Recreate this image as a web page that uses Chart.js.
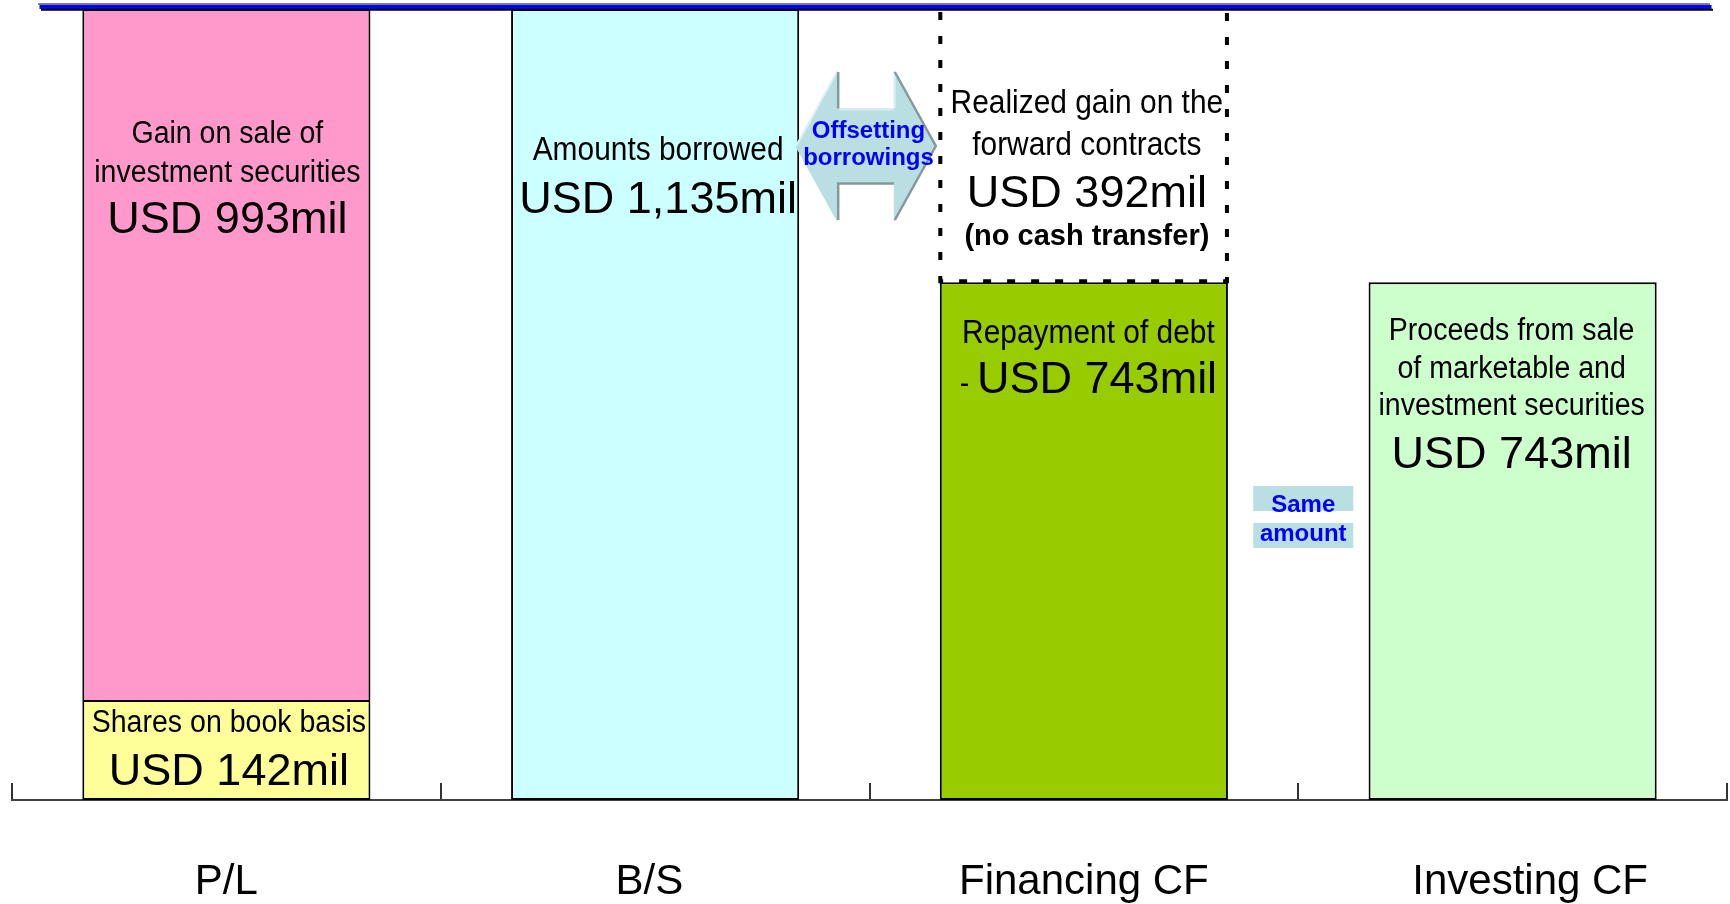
<!DOCTYPE html>
<html>
<head>
<meta charset="utf-8">
<title>Offsetting borrowings</title>
<script src="https://cdn.jsdelivr.net/npm/chart.js@4"></script>
<style>
  html, body { margin: 0; padding: 0; background: #fff; }
  #wrap { width: 1730px; height: 904px; }
</style>
</head>
<body>
<div id="wrap"><canvas id="chart" width="1730" height="904"></canvas></div>
<script>
// Columns on the bottom axis
const categories = ['P/L', 'B/S', 'Financing CF', 'Investing CF'];

// Lower segment of each column, USD mil
// (shares on book basis, amounts borrowed, repayment of debt, proceeds from sale)
const lowerValues = [142, 1135, 743, 743];
// Upper segment, USD mil (gain on sale, -, realized gain on forward contracts, -)
const upperValues = [993, null, 392, null];

const yMax = 1135;

const lowerColors = ['#ffff99', '#ccffff', '#99cc00', '#ccffcc'];
const upperColors = ['#ff99cc', 'rgba(0,0,0,0)', 'rgba(0,0,0,0)', 'rgba(0,0,0,0)'];

const FONT = "'Liberation Sans', Arial, sans-serif";
const NARROW = 0.92;
const TAG_FILL = '#badfe3';
const TAG_TEXT = '#0000ff';

const usd = v => 'USD ' + v.toLocaleString('en-US') + 'mil';

// Captions inside each segment; dy is the baseline offset from the segment top
const captions = [
  { ds: 1, i: 0, dx: 1, lines: [
    { t: 'Gain on sale of', size: 31, narrow: true, dy: 134 },
    { t: 'investment securities', size: 31, narrow: true, dy: 173 },
    { t: usd(upperValues[0]), size: 45, dy: 224 }
  ] },
  { ds: 0, i: 0, dx: 2.5, lines: [
    { t: 'Shares on book basis', size: 31, narrow: true, dy: 31 },
    { t: usd(lowerValues[0]), size: 45, dy: 84 }
  ] },
  { ds: 0, i: 1, dx: 3, lines: [
    { t: 'Amounts borrowed', size: 32.5, narrow: true, dy: 151 },
    { t: usd(lowerValues[1]), size: 45, dy: 204 }
  ] },
  { ds: 1, i: 2, dx: 3, lines: [
    { t: 'Realized gain on the', size: 32.5, narrow: true, dy: 104 },
    { t: 'forward contracts', size: 32.5, narrow: true, dy: 146 },
    { t: usd(upperValues[2]), size: 45, dy: 198 },
    { t: '(no cash transfer)', size: 29, bold: true, dy: 236 }
  ] },
  { ds: 0, i: 2, dx: 4.5, lines: [
    { t: 'Repayment of debt', size: 32.5, narrow: true, dy: 61 },
    { t: usd(lowerValues[2]), prefix: '- ', size: 45, dy: 111 }
  ] },
  { ds: 0, i: 3, dx: -1, lines: [
    { t: 'Proceeds from sale', size: 31, narrow: true, dy: 58 },
    { t: 'of marketable and', size: 31, narrow: true, dy: 96 },
    { t: 'investment securities', size: 31, narrow: true, dy: 133 },
    { t: usd(lowerValues[3]), size: 45, dy: 186 }
  ] }
];

// Axis labels sit a little off-centre under their columns
const labelPad = ['', ' ', '', '   '];

function fontSpec(p) {
  return (p.bold ? 'bold ' : '') + p.size + 'px ' + FONT;
}

// Draws one caption line centred on cx, optional small prefix in front
function drawLine(ctx, line, cx, baseY) {
  const pieces = line.prefix ? [{ t: line.prefix, size: 31, narrow: true }, line] : [line];
  const widths = pieces.map(p => {
    ctx.font = fontSpec(p);
    return ctx.measureText(p.t).width * (p.narrow ? NARROW : 1);
  });
  let x = cx - widths.reduce((a, b) => a + b, 0) / 2;
  pieces.forEach((p, k) => {
    ctx.save();
    ctx.font = fontSpec(p);
    ctx.fillStyle = p.color || '#000';
    ctx.textAlign = 'left';
    ctx.textBaseline = 'alphabetic';
    ctx.translate(x, baseY);
    if (p.narrow) ctx.scale(NARROW, 1);
    ctx.fillText(p.t, 0, 0);
    ctx.restore();
    x += widths[k];
  });
}

function edges(el) {
  return { left: el.x - el.width / 2, right: el.x + el.width / 2, top: el.y, bottom: el.base };
}

// Double-headed block arrow between two columns
function drawArrow(ctx, L, R, cy) {
  const headH = 76, shaftH = 37.5, headW = 42;
  const xl = L + headW, xr = R - headW;
  ctx.save();
  ctx.beginPath();
  ctx.moveTo(L, cy);
  ctx.lineTo(xl, cy - headH);
  ctx.lineTo(xl, cy - shaftH);
  ctx.lineTo(xr, cy - shaftH);
  ctx.lineTo(xr, cy - headH);
  ctx.lineTo(R, cy);
  ctx.lineTo(xr, cy + headH);
  ctx.lineTo(xr, cy + shaftH);
  ctx.lineTo(xl, cy + shaftH);
  ctx.lineTo(xl, cy + headH);
  ctx.closePath();
  ctx.fillStyle = TAG_FILL;
  ctx.fill();

  const seg = (pts, color, w) => {
    ctx.beginPath();
    ctx.moveTo(pts[0][0], pts[0][1]);
    pts.slice(1).forEach(p => ctx.lineTo(p[0], p[1]));
    ctx.strokeStyle = color;
    ctx.lineWidth = w;
    ctx.stroke();
  };
  // light bevel
  seg([[L + 1, cy], [xl, cy - headH + 1]], '#e2f2f4', 2);
  seg([[xl + 2, cy - shaftH + 1], [xr, cy - shaftH + 1]], '#d6ecee', 2);
  seg([[xr + 1, cy - shaftH], [xr + 1, cy - headH + 2]], '#d6ecee', 2);
  // dark bevel
  seg([[xl + 1, cy - headH + 2], [xl + 1, cy - shaftH]], '#84999b', 2.5);
  seg([[xl + 1, cy + headH - 2], [xl + 1, cy + shaftH], [xr, cy + shaftH]], '#84999b', 2.5);
  seg([[xr + 1, cy - headH + 2], [R, cy], [xr + 1, cy + headH - 2]], '#84999b', 2.5);
  ctx.restore();

  ctx.save();
  ctx.fillStyle = TAG_TEXT;
  ctx.font = 'bold 24px ' + FONT;
  ctx.textAlign = 'center';
  ctx.textBaseline = 'alphabetic';
  const cx = (L + R) / 2 + 3;
  ctx.fillText('Offsetting', cx, cy - 8);
  ctx.fillText('borrowings', cx, cy + 19);
  ctx.restore();
}

// "Same amount" tag between two columns
function drawSameTag(ctx, cx, top) {
  ctx.save();
  ctx.fillStyle = TAG_FILL;
  ctx.fillRect(cx - 50, top, 100, 25);
  ctx.fillRect(cx - 50, top + 37, 100, 25);
  ctx.fillStyle = TAG_TEXT;
  ctx.font = 'bold 24px ' + FONT;
  ctx.textAlign = 'center';
  ctx.textBaseline = 'alphabetic';
  ctx.fillText('Same', cx, top + 26);
  ctx.fillText('amount', cx, top + 55);
  ctx.restore();
}

const overlay = {
  id: 'overlay',
  afterDatasetsDraw(chart) {
    const { ctx, chartArea } = chart;
    const lower = chart.getDatasetMeta(0).data;
    const upper = chart.getDatasetMeta(1).data;

    // dotted frame for the non-cash part of financing CF
    const nc = edges(upper[2]);
    ctx.save();
    ctx.strokeStyle = '#000';
    ctx.lineWidth = 4;
    ctx.setLineDash([8, 16]);
    ctx.beginPath();
    ctx.moveTo(nc.left + 0.5, nc.top + 3);
    ctx.lineTo(nc.left + 0.5, nc.bottom - 1);
    ctx.lineTo(nc.right - 1, nc.bottom - 1);
    ctx.lineTo(nc.right - 1, nc.top);
    ctx.stroke();
    ctx.restore();

    captions.forEach(c => {
      const el = (c.ds === 0 ? lower : upper)[c.i];
      c.lines.forEach(line => drawLine(ctx, line, el.x + c.dx, el.y + line.dy));
    });

    const bs = edges(lower[1]);
    drawArrow(ctx, bs.right - 4, nc.left - 4, chartArea.top + 137);

    const fin = edges(lower[2]);
    const inv = edges(lower[3]);
    drawSameTag(ctx, (fin.right + inv.left) / 2 + 5, chartArea.top + 477);
  },
  afterDraw(chart) {
    // heading rule across the top of the plot
    const { ctx, chartArea } = chart;
    const x0 = chartArea.left + 26, x1 = chartArea.right - 17, t = chartArea.top;
    const rule = (dx, y, color, w) => {
      ctx.beginPath();
      ctx.moveTo(x0 + dx, y);
      ctx.lineTo(x1 + dx, y);
      ctx.strokeStyle = color;
      ctx.lineWidth = w;
      ctx.stroke();
    };
    ctx.save();
    rule(0, t - 5, '#7f7f7f', 2);
    rule(1.5, t - 2, '#0000ff', 4);
    rule(3, t + 0.8, '#000', 2);
    ctx.restore();
  }
};

new Chart(document.getElementById('chart').getContext('2d'), {
  type: 'bar',
  data: {
    labels: categories,
    datasets: [
      {
        label: 'lower',
        data: lowerValues,
        backgroundColor: lowerColors,
        borderColor: '#000',
        borderWidth: ctx => ctx.dataIndex === 0 ? { top: 1, left: 2, right: 2, bottom: 2 } : 2,
        borderSkipped: false
      },
      {
        label: 'upper',
        data: upperValues,
        backgroundColor: upperColors,
        borderColor: '#000',
        borderWidth: ctx => ctx.dataIndex === 0 ? { top: 2, left: 2, right: 2, bottom: 1 } : 0,
        borderSkipped: false
      }
    ]
  },
  options: {
    responsive: false,
    devicePixelRatio: 1,
    animation: false,
    events: [],
    layout: { padding: { left: 12, right: 3, top: 9, bottom: 0 } },
    datasets: { bar: { barPercentage: 0.672, categoryPercentage: 1 } },
    plugins: {
      legend: { display: false },
      tooltip: { enabled: false },
      title: { display: false }
    },
    scales: {
      x: {
        stacked: true,
        offset: true,
        grid: { offset: true, drawOnChartArea: false, drawTicks: true, tickLength: -17, color: '#333', lineWidth: 2 },
        border: { display: true, color: '#404040', width: 2 },
        ticks: {
          color: '#000',
          font: { family: FONT, size: 42 },
          padding: 74,
          autoSkip: false,
          maxRotation: 0,
          callback: (value, index) => {
            const name = categories[index];
            return index === 1 ? name + labelPad[index] : labelPad[index] + name;
          }
        },
        afterFit: scale => { scale.height = 104; }
      },
      y: { stacked: true, display: false, min: 0, max: yMax }
    }
  },
  plugins: [overlay]
});
</script>
</body>
</html>
